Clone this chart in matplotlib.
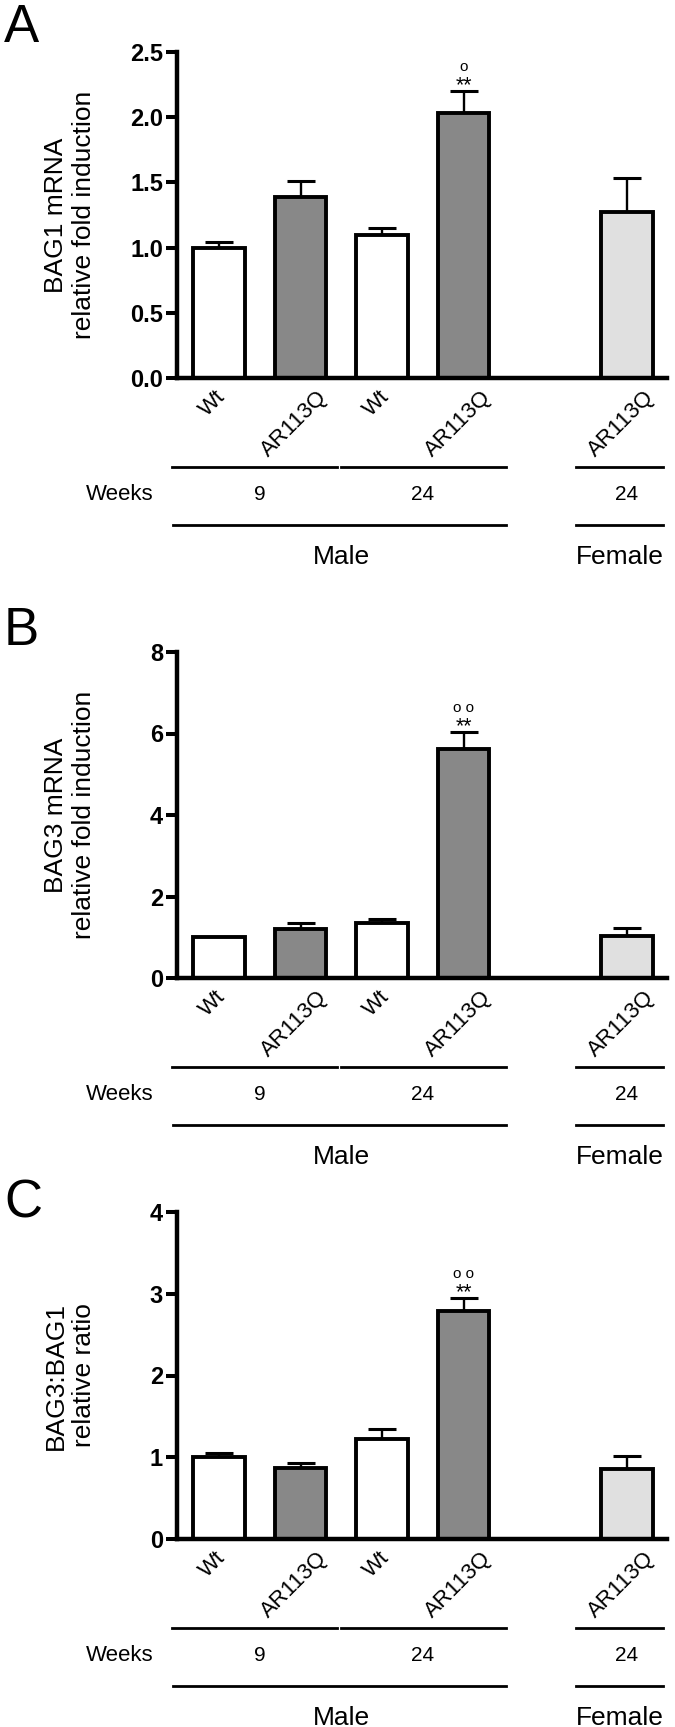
import matplotlib
matplotlib.use('Agg')
import matplotlib.pyplot as plt
import matplotlib.transforms as mtransforms
import numpy as np

plt.rcParams['font.family'] = ['Liberation Sans', 'DejaVu Sans']

# categories
groups = ['Wt', 'AR113Q', 'Wt', 'AR113Q', 'AR113Q']
x_pos = [0, 1, 2, 3, 5]
bar_colors = ['white', '#888888', 'white', '#888888', '#e0e0e0']

# A: BAG1 mRNA
bag1_mean = [1.00, 1.39, 1.10, 2.03, 1.27]
bag1_sem = [0.04, 0.12, 0.05, 0.17, 0.26]
bag1_ticks = [0, 0.5, 1.0, 1.5, 2.0, 2.5]
bag1_ticklabels = ['0.0', '0.5', '1.0', '1.5', '2.0', '2.5']

# B: BAG3 mRNA
bag3_mean = [1.00, 1.20, 1.35, 5.62, 1.02]
bag3_sem = [0.0, 0.16, 0.10, 0.41, 0.21]
bag3_ticks = [0, 2, 4, 6, 8]
bag3_ticklabels = ['0', '2', '4', '6', '8']

# C: BAG3:BAG1 ratio
ratio_mean = [1.00, 0.87, 1.22, 2.79, 0.86]
ratio_sem = [0.05, 0.06, 0.13, 0.16, 0.16]
ratio_ticks = [0, 1, 2, 3, 4]
ratio_ticklabels = ['0', '1', '2', '3', '4']

W, H = 675, 1727
fig = plt.figure(figsize=(W / 100, H / 100), dpi=100)


def panel(top, bottom, letter, letter_base, ylabel, means, sems, ymax,
          yticks, yticklabels, mark):
    ax = fig.add_axes([177 / W, 1 - bottom / H, (667 - 177) / W, (bottom - top) / H])
    ax.bar(x_pos, means, width=0.63, color=bar_colors, edgecolor='black',
           linewidth=2.8, zorder=2)
    ax.errorbar(x_pos, means, yerr=[np.zeros(len(sems)), sems], fmt='none',
                ecolor='black', elinewidth=1.7, capsize=10.4, capthick=2.2, zorder=1)
    ax.set_xlim(-0.514, 5.49)
    ax.set_ylim(0, ymax)
    ax.set_yticks(yticks)
    ax.set_yticklabels(yticklabels, fontsize=17, fontweight='bold')
    ax.tick_params(axis='y', length=8, width=2.9, pad=2)
    ax.set_xticks(x_pos)
    ax.set_xticklabels(groups, rotation=45, fontsize=16, ha='center', va='top')
    ax.tick_params(axis='x', length=0, pad=6)
    shift = mtransforms.ScaledTranslation(-0.06, 0, fig.dpi_scale_trans)
    for lbl in ax.get_xticklabels():
        lbl.set_transform(lbl.get_transform() + shift)
    for s in ['top', 'right']:
        ax.spines[s].set_visible(False)
    for s in ['left', 'bottom']:
        ax.spines[s].set_linewidth(3.2)

    # significance marks above the 24-week AR113Q bar
    top_err = means[3] + sems[3]
    ax.annotate('**', xy=(3, top_err), xytext=(0, 0), textcoords='offset points',
                ha='center', va='baseline', fontsize=15.5)
    ax.annotate(mark, xy=(3, top_err), xytext=(0, 14.5), textcoords='offset points',
                ha='center', va='baseline', fontsize=11)

    # grouping lines and labels below the axis
    h = bottom - top
    xt = ax.get_xaxis_transform()

    def yf(px):
        return -px / h

    for x0, x1 in [(-0.57, 1.45), (1.50, 3.52), (4.38, 5.44)]:
        ax.plot([x0, x1], [yf(89), yf(89)], transform=xt, clip_on=False,
                color='black', lw=2)
    for x0, x1 in [(-0.56, 3.52), (4.38, 5.44)]:
        ax.plot([x0, x1], [yf(147), yf(147)], transform=xt, clip_on=False,
                color='black', lw=2)
    ax.text(-1.22, yf(116), 'Weeks', transform=xt, ha='center', va='center', fontsize=16)
    ax.text(0.5, yf(116), '9', transform=xt, ha='center', va='center', fontsize=15)
    ax.text(2.5, yf(116), '24', transform=xt, ha='center', va='center', fontsize=15)
    ax.text(5.0, yf(116), '24', transform=xt, ha='center', va='center', fontsize=15)
    ax.text(1.5, yf(179), 'Male', transform=xt, ha='center', va='center', fontsize=19)
    ax.text(4.91, yf(179), 'Female', transform=xt, ha='center', va='center', fontsize=19)

    fig.text(4 / W, 1 - letter_base / H, letter, fontsize=38, ha='left', va='baseline')
    fig.text(70 / W, 1 - ((top + bottom) / 2) / H, ylabel, rotation=90,
             ha='center', va='center', fontsize=19, multialignment='center')
    return ax


panel(52, 378, 'A', 42, 'BAG1 mRNA\nrelative fold induction',
      bag1_mean, bag1_sem, 2.5, bag1_ticks, bag1_ticklabels, 'o')
panel(652, 978, 'B', 645, 'BAG3 mRNA\nrelative fold induction',
      bag3_mean, bag3_sem, 8, bag3_ticks, bag3_ticklabels, 'o o')
panel(1212, 1539, 'C', 1218, 'BAG3:BAG1\nrelative ratio',
      ratio_mean, ratio_sem, 4, ratio_ticks, ratio_ticklabels, 'o o')

fig.savefig('out.png', dpi=100)
